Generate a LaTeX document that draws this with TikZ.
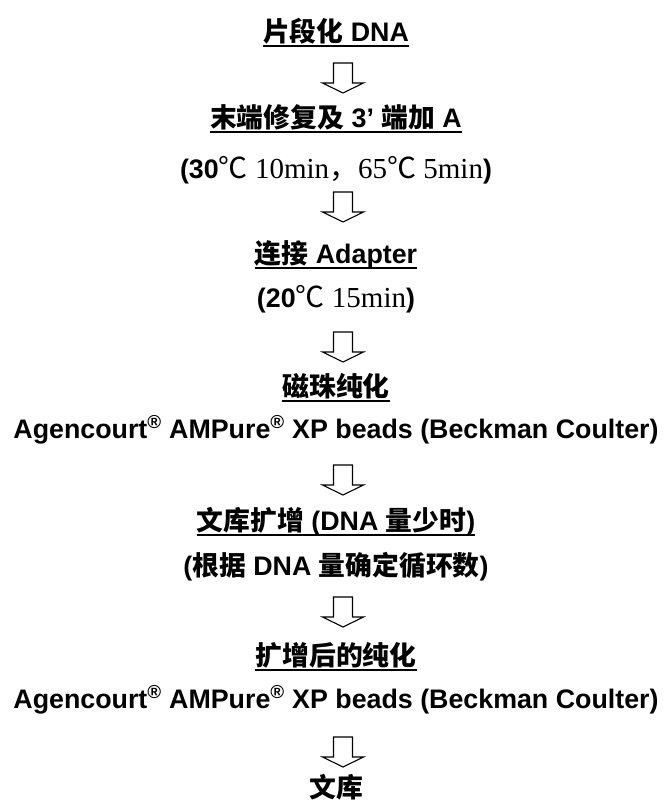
\documentclass[tikz,border=0pt]{standalone}
\usepackage{fontspec}
\setmainfont{Liberation Sans}
\newfontfamily\cjk{Noto Sans CJK SC}
\newfontfamily\serifpart{Liberation Serif}
\newcommand\zh[1]{{\cjk #1}}
\newcommand\sr[1]{{\fontsize{29}{30}\selectfont\serifpart\mdseries #1}}
\usetikzlibrary{calc}
\tikzset{
  lbl/.style={inner sep=0pt, anchor=base, font=\fontsize{26.8}{30}\selectfont\bfseries},
  blk/.style={draw=black, fill=white, line width=1.1pt, line join=miter},
  ul/.style={line width=2pt}
}
\begin{document}
\begin{tikzpicture}[x=1pt,y=-1pt]
\useasboundingbox (0,0) rectangle (664,803);
% texts
\node[lbl] (t1) at (336,41) {\zh{片段化} DNA};
\node[lbl] (t2) at (336,127) {\zh{末端修复及} 3’ \zh{端加} A};
\node[lbl] (t3) at (336,178) {(30\sr{\zh{℃} 10min\zh{，}65\zh{℃} 5min})};
\node[lbl] (t4) at (336,263) {\zh{连接} Adapter};
\node[lbl] (t5) at (336,307) {(20\sr{\zh{℃} 15min})};
\node[lbl] (t6) at (336,396) {\zh{磁珠纯化}};
\node[lbl] (t7) at (336,438) {Agencourt\textsuperscript{®} AMPure\textsuperscript{®} XP beads (Beckman Coulter)};
\node[lbl] (t8) at (336,530) {\zh{文库扩增} (DNA \zh{量少时})};
\node[lbl] (t9) at (336,575) {(\zh{根据} DNA \zh{量确定循环数})};
\node[lbl] (t10) at (336,665) {\zh{扩增后的纯化}};
\node[lbl] (t11) at (336,708) {Agencourt\textsuperscript{®} AMPure\textsuperscript{®} XP beads (Beckman Coulter)};
\node[lbl] (t12) at (336,797) {\zh{文库}};
% underlines
\foreach \n in {t1,t2,t4,t6,t8,t10}{
  \draw[ul] ([yshift=-5pt]\n.base west) -- ([yshift=-5pt]\n.base east);
}
% block arrows
\coordinate (a1) at (343,63);
\coordinate (a2) at (343,192);
\coordinate (a3) at (343,332);
\coordinate (a4) at (343,465);
\coordinate (a5) at (343,597);
\coordinate (a6) at (343,737);
\foreach \a in {a1,a2,a3,a4,a5,a6}{
  \draw[blk] (\a) ++(-9.5,0) -- ++(19,0) -- ++(0,20) -- ++(11,0) -- ++(-20.5,10) -- ++(-20.5,-10) -- ++(11,0) -- cycle;
}
\end{tikzpicture}
\end{document}
